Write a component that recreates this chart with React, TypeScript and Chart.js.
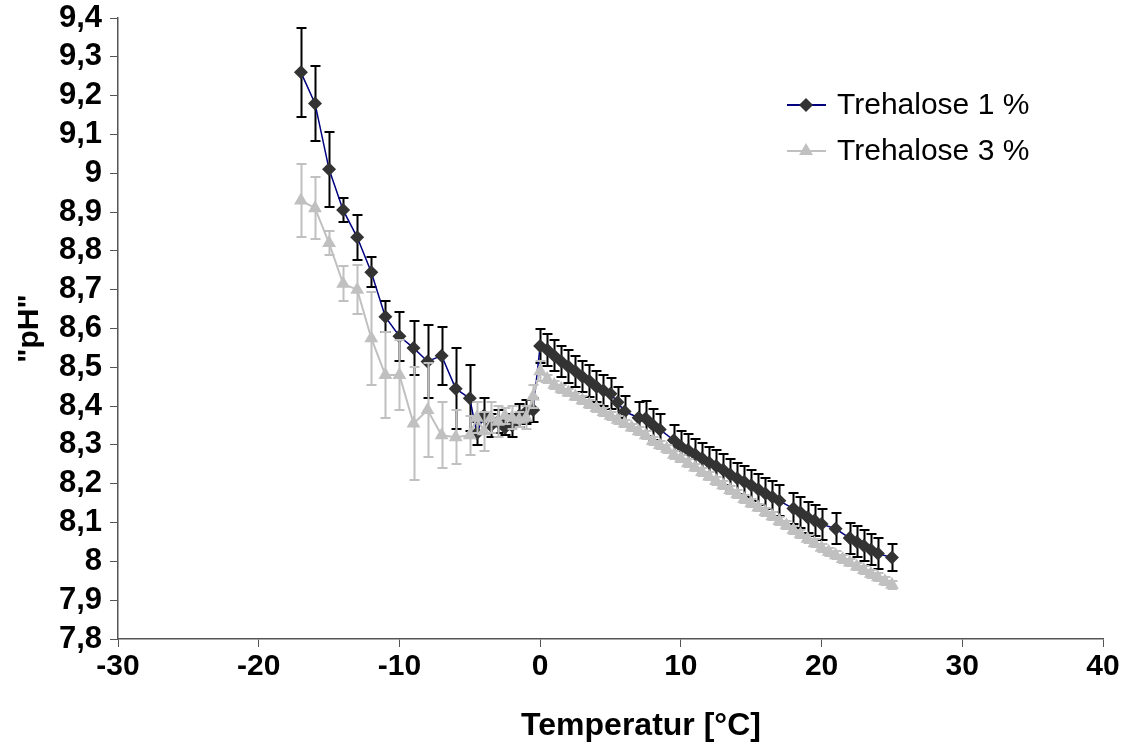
import React, { useEffect, useRef } from "react";
import { Chart, registerables } from "chart.js";

Chart.register(...registerables);

// ---------- data ----------
const seriesNames = ["Trehalose 1 %", "Trehalose 3 %"];

const temps1 = [
  -17, -16, -15, -14, -13, -12, -11, -10, -9, -8, -7, -6, -5,
  -4.5, -4, -3.5, -3, -2.5, -2, -1.5, -1, -0.5,
  0, 0.5, 1, 1.5, 2, 2.5, 3, 3.5, 4, 4.5, 5, 5.5, 6,
  7, 7.5, 8, 8.5,
  9.5, 10, 10.5, 11, 11.5, 12, 12.5, 13, 13.5, 14, 14.5, 15, 15.5, 16, 16.5, 17,
  18, 18.5, 19, 19.5, 20,
  21,
  22, 22.5, 23, 23.5, 24,
  25,
];
const ph1 = [
  9.26, 9.18, 9.01, 8.905, 8.835, 8.745, 8.63, 8.58, 8.55, 8.515, 8.53, 8.445, 8.42,
  8.33, 8.375, 8.35, 8.36, 8.345, 8.35, 8.375, 8.385, 8.39,
  8.555, 8.545, 8.53, 8.515, 8.502, 8.49, 8.476, 8.465, 8.45, 8.44, 8.432, 8.41, 8.386,
  8.37, 8.368, 8.352, 8.34,
  8.312, 8.296, 8.287, 8.276, 8.266, 8.255, 8.246, 8.236, 8.224, 8.214, 8.205, 8.196, 8.186, 8.175, 8.166, 8.156,
  8.136, 8.126, 8.114, 8.105, 8.096,
  8.084,
  8.06, 8.05, 8.04, 8.03, 8.02,
  8.01,
];
const err1 = [
  0.115, 0.097, 0.097, 0.03, 0.058, 0.038, 0.04, 0.063, 0.07, 0.093, 0.075, 0.105, 0.085,
  0.03, 0.045, 0.03, 0.03, 0.02, 0.03, 0.03, 0.03, 0.03,
  0.045, 0.042, 0.04, 0.04, 0.042, 0.04, 0.04, 0.042, 0.04, 0.04, 0.04, 0.04, 0.04,
  0.04, 0.045, 0.04, 0.04,
  0.04, 0.04, 0.04, 0.04, 0.04, 0.04, 0.04, 0.04, 0.04, 0.04, 0.04, 0.04, 0.04, 0.04, 0.04, 0.04,
  0.04, 0.04, 0.04, 0.04, 0.04,
  0.04,
  0.04, 0.04, 0.04, 0.04, 0.04,
  0.035,
];

const temps3 = [
  -17, -16, -15, -14, -13, -12, -11, -10, -9, -8, -7, -6, -5,
  -4.5, -4, -3.5, -3, -2.5, -2, -1.5, -1, -0.5,
  0, 0.5, 1, 1.5, 2, 2.5, 3, 3.5, 4, 4.5, 5, 5.5, 6, 6.5, 7, 7.5, 8, 8.5, 9, 9.5,
  10, 10.5, 11, 11.5, 12, 12.5, 13, 13.5, 14, 14.5, 15, 15.5, 16, 16.5, 17, 17.5,
  18, 18.5, 19, 19.5, 20, 20.5, 21, 21.5, 22, 22.5, 23, 23.5, 24, 24.5, 25,
];
const ph3 = [
  8.93, 8.91, 8.82, 8.715, 8.7, 8.575, 8.48, 8.48, 8.355, 8.39, 8.325, 8.32, 8.325,
  8.37, 8.335, 8.37, 8.36, 8.375, 8.37, 8.365, 8.37, 8.425,
  8.49, 8.47, 8.455, 8.445, 8.435, 8.425, 8.415, 8.405, 8.395, 8.385, 8.375, 8.365, 8.355, 8.345, 8.335, 8.325, 8.31, 8.3, 8.29, 8.275,
  8.265, 8.253, 8.242, 8.23, 8.219, 8.207, 8.196, 8.184, 8.173, 8.161, 8.15, 8.139, 8.127, 8.116, 8.104, 8.093,
  8.081, 8.07, 8.058, 8.047, 8.035, 8.025, 8.016, 8.006, 7.997, 7.987, 7.978, 7.968, 7.959, 7.949, 7.94,
];
const err3 = [
  0.095, 0.08, 0.03, 0.045, 0.063, 0.12, 0.11, 0.09, 0.145, 0.12, 0.085, 0.07, 0.05,
  0.04, 0.05, 0.04, 0.04, 0.02, 0.03, 0.02, 0.03, 0.03,
  0.025, 0.01, 0.01, 0.01, 0.01, 0.01, 0.01, 0.01, 0.01, 0.01, 0.01, 0.01, 0.01, 0.01, 0.01, 0.01, 0.01, 0.01, 0.01, 0.01,
  0.01, 0.01, 0.01, 0.01, 0.01, 0.01, 0.01, 0.01, 0.01, 0.01, 0.01, 0.01, 0.01, 0.01, 0.01, 0.01,
  0.01, 0.01, 0.01, 0.01, 0.01, 0.01, 0.01, 0.01, 0.01, 0.01, 0.01, 0.01, 0.01, 0.01, 0.01,
];

const xMin = -30;
const xMax = 40;
const yMin = 7.8;
const yMax = 9.4;
const xTitle = "Temperatur [°C]";
const yTitle = '"pH"';

const errorsBySeries = [err1, err3];
const errorColors = ["#000000", "#C0C0C0"];
const lineColors = ["#000080", "#C0C0C0"];
const markerColors = ["#333333", "#C0C0C0"];

const FONT = "Arial, 'Liberation Sans', sans-serif";

function drawMarker(ctx: CanvasRenderingContext2D, kind: number, x: number, y: number) {
  ctx.beginPath();
  if (kind === 0) {
    const r = 7;
    ctx.moveTo(x - r, y);
    ctx.lineTo(x, y - r);
    ctx.lineTo(x + r, y);
    ctx.lineTo(x, y + r);
  } else {
    const r = 8;
    for (let k = 0; k < 3; k++) {
      const a = (k * 2 * Math.PI) / 3;
      const px = x + Math.sin(a) * r;
      const py = y - Math.cos(a) * r;
      if (k === 0) ctx.moveTo(px, py);
      else ctx.lineTo(px, py);
    }
  }
  ctx.closePath();
  ctx.fillStyle = markerColors[kind];
  ctx.fill();
}

const errorBarPlugin = {
  id: "errorBars",
  beforeDatasetDraw(chart: any, args: any) {
    const idx = args.index;
    const errs = errorsBySeries[idx];
    const ds = chart.data.datasets[idx];
    const ys = chart.scales.y;
    const ctx = chart.ctx;
    ctx.save();
    ctx.strokeStyle = errorColors[idx];
    ctx.lineWidth = 2;
    args.meta.data.forEach((pt: any, i: number) => {
      const v = ds.data[i].y;
      const e = errs[i];
      const yt = Math.round(ys.getPixelForValue(v + e));
      const yb = Math.round(ys.getPixelForValue(v - e));
      const x = Math.round(pt.x) + 0.5;
      ctx.beginPath();
      ctx.moveTo(x, yt);
      ctx.lineTo(x, yb);
      ctx.moveTo(x - 5, yt);
      ctx.lineTo(x + 5, yt);
      ctx.moveTo(x - 5, yb);
      ctx.lineTo(x + 5, yb);
      ctx.stroke();
    });
    ctx.restore();
  },
};

const legendPlugin = {
  id: "customLegend",
  afterDraw(chart: any) {
    const ctx = chart.ctx;
    const rows = [105, 151];
    ctx.save();
    seriesNames.forEach((name, i) => {
      const y = rows[i];
      ctx.strokeStyle = lineColors[i];
      ctx.lineWidth = 2;
      ctx.beginPath();
      ctx.moveTo(787, y);
      ctx.lineTo(826, y);
      ctx.stroke();
      drawMarker(ctx, i, 806, y);
      ctx.fillStyle = "#000000";
      ctx.font = `30px ${FONT}`;
      ctx.textBaseline = "middle";
      ctx.textAlign = "left";
      ctx.fillText(name, 837, y + 1);
    });
    // x-axis title, centred where the original places it
    ctx.font = `bold 32px ${FONT}`;
    ctx.textAlign = "center";
    ctx.textBaseline = "middle";
    ctx.fillText(xTitle, 641, 726);
    ctx.restore();
  },
};

function fmt(v: number) {
  const r = Math.round(v * 10) / 10;
  return String(r).replace(".", ",");
}

export default function App() {
  const ref = useRef<HTMLCanvasElement | null>(null);
  useEffect(() => {
    if (!ref.current) return;
    const chart = new Chart(ref.current, {
      type: "line",
      data: {
        datasets: [
          {
            label: seriesNames[0],
            data: temps1.map((t, i) => ({ x: t, y: ph1[i] })),
            borderColor: lineColors[0],
            borderWidth: 1.5,
            pointStyle: "rectRot",
            pointRadius: 7,
            pointBackgroundColor: markerColors[0],
            pointBorderColor: markerColors[0],
            pointBorderWidth: 0,
            tension: 0,
            order: 1,
          },
          {
            label: seriesNames[1],
            data: temps3.map((t, i) => ({ x: t, y: ph3[i] })),
            borderColor: lineColors[1],
            borderWidth: 2,
            pointStyle: "triangle",
            pointRadius: 8,
            pointBackgroundColor: markerColors[1],
            pointBorderColor: markerColors[1],
            pointBorderWidth: 0,
            tension: 0,
            order: 0,
          },
        ],
      },
      options: {
        responsive: false,
        animation: false,
        devicePixelRatio: 1,
        layout: { padding: { left: 0, top: 18, right: 19, bottom: 0 } },
        plugins: {
          legend: { display: false },
          tooltip: { enabled: false },
        },
        scales: {
          x: {
            type: "linear",
            min: xMin,
            max: xMax,
            ticks: {
              stepSize: 10,
              color: "#000000",
              font: { family: FONT, size: 30, weight: "bold" },
              padding: 2,
              maxRotation: 0,
              autoSkip: false,
            },
            grid: {
              drawOnChartArea: false,
              drawTicks: true,
              tickLength: 8,
              color: "#555555",
              lineWidth: 1,
            },
            border: { color: "#555555", width: 1.5 },
            title: { display: false },
            afterFit: (s: any) => {
              s.height = 110;
              s.paddingRight = 0;
            },
          },
          y: {
            type: "linear",
            min: yMin,
            max: yMax,
            ticks: {
              stepSize: 0.1,
              color: "#000000",
              font: { family: FONT, size: 31, weight: "bold" },
              padding: 8,
              autoSkip: false,
              callback: (v: any) => fmt(Number(v)),
            },
            grid: {
              drawOnChartArea: false,
              drawTicks: true,
              tickLength: 8,
              color: "#555555",
              lineWidth: 1,
            },
            border: { color: "#555555", width: 1.5 },
            title: {
              display: true,
              text: yTitle,
              color: "#000000",
              font: { family: FONT, size: 30, weight: "bold" },
              padding: { top: 12, bottom: 0 },
            },
            afterFit: (s: any) => {
              s.width = 118;
              s.paddingTop = 0;
              s.paddingBottom = 0;
            },
          },
        },
      },
      plugins: [errorBarPlugin, legendPlugin],
    } as any);
    return () => chart.destroy();
  }, []);
  return (
    <div style={{ position: "fixed", left: 0, top: 0, width: 1122, height: 749, background: "#ffffff" }}>
      <canvas ref={ref} width={1122} height={749} style={{ display: "block" }} />
    </div>
  );
}
